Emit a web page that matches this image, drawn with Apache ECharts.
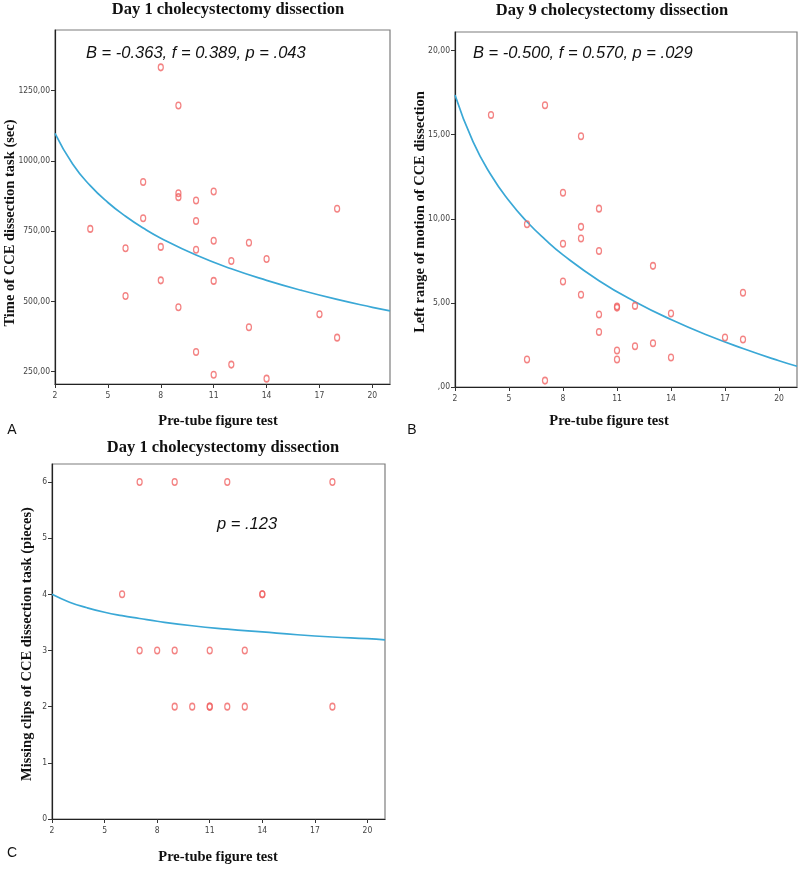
<!DOCTYPE html>
<html>
<head>
<meta charset="utf-8">
<script src="https://cdn.jsdelivr.net/npm/echarts@6/dist/echarts.min.js"></script>
<style>html,body{margin:0;padding:0;background:#fff}#c{width:800px;height:869px}</style>
</head>
<body>
<div id="c"></div>
<script>
// ---- data ----
const xTicks = [2, 5, 8, 11, 14, 17, 20];
const aYTicks = [250, 500, 750, 1000, 1250];
const bYTicks = [0, 5, 10, 15, 20];
const cYTicks = [0, 1, 2, 3, 4, 5, 6];

// Panel A: Day 1, time of CCE dissection task (sec)
const aX = [4, 6, 6, 7, 7, 8, 8, 8, 9, 9, 9, 9, 10, 10, 10, 10, 11, 11, 11, 11, 12, 12, 13, 13, 14, 14, 17, 18, 18];
const aY = [758, 689, 519, 925, 796, 1333, 694, 575, 1197, 885, 871, 479, 859, 786, 684, 320, 891, 716, 573, 239, 644, 275, 709, 408, 651, 225, 454, 830, 371];

// Panel B: Day 9, left range of motion
const bX = [4, 6, 6, 7, 7, 8, 8, 8, 9, 9, 9, 9, 10, 10, 10, 10, 11, 11, 11, 11, 12, 12, 13, 13, 14, 14, 17, 18, 18];
const bY = [16.17, 9.67, 1.63, 16.75, 0.38, 11.55, 8.51, 6.27, 14.9, 9.52, 8.83, 5.48, 10.6, 8.08, 4.31, 3.27, 4.78, 4.72, 2.17, 1.63, 4.82, 2.42, 7.2, 2.6, 4.37, 1.75, 2.94, 5.6, 2.82];

// Panel C: Day 1, missing clips (pieces)
const cX = [7, 9, 12, 18, 6, 14, 14, 7, 8, 9, 11, 13, 9, 10, 11, 11, 12, 13, 18];
const cY = [6, 6, 6, 6, 4, 4, 4, 3, 3, 3, 3, 3, 2, 2, 2, 2, 2, 2, 2];

// Fitted curves
const curveX = [2, 3, 4, 5, 6, 7, 8, 10, 12, 14, 16, 18, 20, 21];
const aCurve = [1098, 989, 912, 852, 803, 761, 725, 665, 616, 575, 539, 507, 479, 466];
const bCurve = [17.36, 14.58, 12.6, 11.07, 9.82, 8.77, 7.85, 6.32, 5.07, 4.01, 3.09, 2.29, 1.56, 1.23];
const cCurve = [4.0, 3.86, 3.76, 3.68, 3.62, 3.57, 3.52, 3.44, 3.38, 3.33, 3.28, 3.24, 3.21, 3.19];

const titles = ['Day 1 cholecystectomy dissection', 'Day 9 cholecystectomy dissection', 'Day 1 cholecystectomy dissection'];
const annotations = ['B = -0.363, f = 0.389, p = .043', 'B = -0.500, f = 0.570, p = .029', 'p = .123'];
const yTitles = ['Time of CCE dissection task (sec)', 'Left range of motion of CCE dissection', 'Missing clips of CCE dissection task (pieces)'];
const xTitle = 'Pre-tube figure test';
const panelLetters = ['A', 'B', 'C'];

// ---- chart ----
const chart = echarts.init(document.getElementById('c'), null, {renderer: 'canvas'});
const serif = '"Liberation Serif", "DejaVu Serif", serif';
const sans = '"Liberation Sans", Arial, sans-serif';
const narrow = '"Liberation Sans Narrow", "DejaVu Sans Condensed", "Liberation Sans", sans-serif';

const grids = [
  {left: 55, top: 30, width: 335, height: 354},
  {left: 455, top: 32, width: 342, height: 355},
  {left: 52, top: 464, width: 333, height: 355}
].map(g => Object.assign(g, {show: true, borderColor: '#7d7d7d', borderWidth: 1.2, backgroundColor: '#fff'}));

function fmt2(v) { return v === 0 ? ',00' : v.toFixed(2).replace('.', ','); }

const yRanges = [[206, 1466], [0, 21.1], [0, 6.32]];
const yTickSets = [aYTicks, bYTicks, cYTicks];
const yFormatters = [fmt2, fmt2, v => String(v)];

const xAxes = [0, 1, 2].map(i => ({
  type: 'value', gridIndex: i, min: 2, max: 21,
  axisLine: {show: true, onZero: false, lineStyle: {color: '#222', width: 1.2}},
  axisTick: {show: true, length: 4, customValues: xTicks, lineStyle: {color: '#333'}},
  axisLabel: {customValues: xTicks, margin: 7, fontSize: 8.5, color: '#444', fontFamily: narrow},
  splitLine: {show: false}
}));

const yAxes = [0, 1, 2].map(i => ({
  type: 'value', gridIndex: i, min: yRanges[i][0], max: yRanges[i][1],
  axisLine: {show: true, onZero: false, lineStyle: {color: '#222', width: 1.2}},
  axisTick: {show: true, length: 4, customValues: yTickSets[i], lineStyle: {color: '#333'}},
  axisLabel: {customValues: yTickSets[i], margin: 5, fontSize: 8.5, color: '#444', fontFamily: narrow, formatter: yFormatters[i]},
  splitLine: {show: false}
}));

const pts = [[aX, aY], [bX, bY], [cX, cY]];
const curves = [aCurve, bCurve, cCurve];
const series = [];
[0, 1, 2].forEach(i => {
  series.push({
    type: 'line', xAxisIndex: i, yAxisIndex: i, smooth: 0.5, showSymbol: false, silent: true,
    data: curveX.map((x, k) => [x, curves[i][k]]),
    lineStyle: {color: '#3aa8d6', width: 1.7}, z: 2
  });
  series.push({
    type: 'scatter', xAxisIndex: i, yAxisIndex: i, symbol: 'circle', symbolSize: [5, 6.5],
    data: pts[i][0].map((x, k) => [x, pts[i][1][k]]),
    itemStyle: {color: 'rgba(255,255,255,0)', borderColor: '#f06464', borderWidth: 1.4}, z: 3
  });
});

const graphic = [];
const titlePos = [[228, 10], [612, 11], [223, 448]];
const annPos = [[86, 53], [473, 53], [217, 524]];
const yTitlePos = [[10, 223], [420, 212], [27, 644]];
const xTitlePos = [[218, 421], [609, 421], [218, 857]];
const letterPos = [[12, 430], [412, 430], [12, 853]];
[0, 1, 2].forEach(i => {
  graphic.push({type: 'text', x: titlePos[i][0], y: titlePos[i][1],
    style: {text: titles[i], font: 'bold 16.5px ' + serif, fill: '#111', align: 'center', verticalAlign: 'middle'}});
  graphic.push({type: 'text', x: annPos[i][0], y: annPos[i][1], z: 10,
    style: {text: annotations[i], font: 'italic 16.5px ' + sans, fill: '#111', align: 'left', verticalAlign: 'middle'}});
  graphic.push({type: 'text', x: yTitlePos[i][0], y: yTitlePos[i][1], rotation: Math.PI / 2,
    style: {text: yTitles[i], font: 'bold 14.5px ' + serif, fill: '#111', align: 'center', verticalAlign: 'middle'}});
  graphic.push({type: 'text', x: xTitlePos[i][0], y: xTitlePos[i][1],
    style: {text: xTitle, font: 'bold 14.5px ' + serif, fill: '#111', align: 'center', verticalAlign: 'middle'}});
  graphic.push({type: 'text', x: letterPos[i][0], y: letterPos[i][1],
    style: {text: panelLetters[i], font: '14px ' + sans, fill: '#111', align: 'center', verticalAlign: 'middle'}});
});

chart.setOption({
  animation: false,
  backgroundColor: '#fff',
  grid: grids,
  xAxis: xAxes,
  yAxis: yAxes,
  series: series,
  graphic: graphic
});
</script>
</body>
</html>
